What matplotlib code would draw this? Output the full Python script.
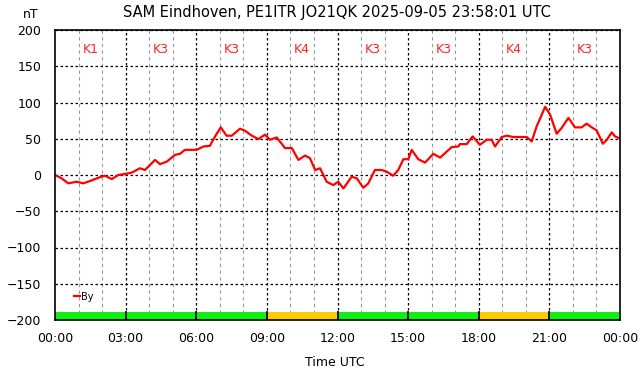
import numpy as np
import matplotlib
matplotlib.use("Agg")
import matplotlib.pyplot as plt

# By component (nT), time in hours UTC
hours = [0, 0.28, 0.56, 0.92, 1.20, 1.49, 1.84, 2.12, 2.41, 2.69, 2.97,
         3.26, 3.61, 3.82, 4.25, 4.46, 4.75, 5.10, 5.31, 5.52, 6.02,
         6.30, 6.58, 6.80, 7.04, 7.29, 7.51, 7.86, 8.07, 8.36, 8.64,
         8.92, 9.13, 9.42, 9.77, 10.06, 10.34, 10.62, 10.83, 11.05, 11.26,
         11.54, 11.82, 12.03, 12.25, 12.60, 12.82, 13.10, 13.31, 13.59, 13.88,
         14.09, 14.37, 14.58, 14.80, 15.01, 15.15, 15.43, 15.72, 16.07, 16.36,
         16.85, 17.13, 17.20, 17.49, 17.74, 18.05, 18.34, 18.55, 18.69, 18.98,
         19.19, 19.47, 20.04, 20.25, 20.46, 20.82, 21.03, 21.31, 21.52, 21.81,
         22.09, 22.37, 22.58, 22.80, 23.01, 23.27, 23.44, 23.65, 23.79, 24.0]
by_nt = [0, -4.6, -11.5, -9.3, -11.5, -8.3, -3.8, -1.0, -5.6, 0, 1.4,
         3.2, 9.3, 6.9, 20.8, 14.9, 18.5, 27.8, 29.2, 34.7, 34.7,
         39.3, 40.3, 53.2, 65.7, 54.2, 54.2, 63.9, 61.1, 54.2, 49.6,
         55.6, 48.6, 51.8, 37.1, 37.1, 20.8, 26.8, 23.2, 6.9, 9.3,
         -9.3, -13.9, -9.3, -18.5, -2.4, -4.6, -17.6, -11.5, 6.9, 6.9,
         4.6, -1.0, 6.9, 21.8, 21.8, 34.7, 21.8, 17.1, 29.2, 24.0,
         38.5, 39.3, 42.6, 42.6, 53.2, 41.7, 48.6, 48.6, 39.3, 52.4,
         54.2, 52.4, 52.4, 46.3, 67.1, 94.0, 83.3, 56.9, 64.9, 78.8,
         65.7, 65.7, 70.8, 65.7, 61.5, 43.1, 48.6, 58.8, 53.2, 50.4]

# K-index per 3 hour block
k_start = [0, 3, 6, 9, 12, 15, 18, 21]
k_index = [1, 3, 3, 4, 3, 3, 4, 3]

x_ticks = [0, 3, 6, 9, 12, 15, 18, 21, 24]
x_labels = ["00:00", "03:00", "06:00", "09:00", "12:00", "15:00", "18:00", "21:00", "00:00"]

fig = plt.figure(figsize=(6.42, 3.76), dpi=100)
ax = fig.add_axes([55/642, 56/376, 565/642, 290/376])

ax.set_xlim(0, 24)
ax.set_ylim(-200, 200)

# grid: hourly grey dashes, 3-hourly black dots, horizontal every 50
for h in range(1, 24):
    if h % 3:
        ax.axvline(h, color="#999999", linestyle=(0, (3, 3)), linewidth=0.8, zorder=1)
    else:
        ax.axvline(h, color="black", linestyle=(0, (2, 2)), linewidth=0.9, zorder=1)
for v in range(-200, 201, 50):
    ax.axhline(v, color="black", linestyle=(0, (2, 2)), linewidth=0.9, zorder=1)

# K-index band along the bottom
band_h = 11
for s, k in zip(k_start, k_index):
    col = "#11ee11" if k <= 3 else "#ffcc00"
    ax.bar(s, band_h, width=3, bottom=-200, align="edge", color=col,
           edgecolor="none", zorder=2)
    ax.text(s + 1.5, 173, f"K{k}", color="#ff2222", ha="center", va="center",
            fontsize=9, zorder=4)
for s in k_start[1:]:
    ax.plot([s, s], [-200, -200 + band_h], color="black", linewidth=1.3, zorder=3)
ax.axhline(-200, color="black", linestyle=(0, (2, 2)), linewidth=0.9, zorder=3)

ax.plot(hours, by_nt, color="#ff0000", linewidth=1.6, label="By", zorder=5)

ax.set_xticks(x_ticks)
ax.set_xticklabels(x_labels)
ax.set_yticks(range(-200, 201, 50))
ax.tick_params(length=0, labelsize=9, pad=9)
ax.tick_params(axis="y", pad=10)
for sp in ax.spines.values():
    sp.set_linewidth(1.2)
    sp.set_zorder(6)

ax.legend(loc="lower left", bbox_to_anchor=(0.021, 0.04), frameon=False,
          fontsize=7, handlelength=0.6, handletextpad=0.2, borderpad=0.2)

fig.text(337/642, 1 - 13/376, "SAM Eindhoven, PE1ITR JO21QK 2025-09-05 23:58:01 UTC",
         ha="center", va="center", fontsize=10.5)
fig.text(31/642, 1 - 15/376, "nT", ha="center", va="center", fontsize=9)
fig.text(335/642, 1 - 362/376, "Time UTC", ha="center", va="center", fontsize=9)

fig.savefig("out.png", dpi=100)
